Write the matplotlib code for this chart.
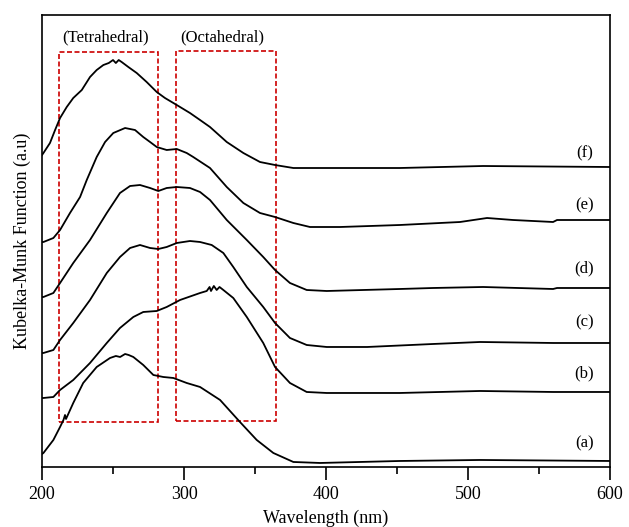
import numpy as np
import matplotlib.pyplot as plt
from matplotlib.patches import Rectangle

# UV-Vis DRS (Kubelka-Munk), curves, arbitrary units
wl_a = [200, 201, 208, 212.7, 215.1, 216.2, 216.9, 222, 229, 238.5, 247.9, 252, 255, 258.5, 261, 264.3,
        271.3, 278.4, 285.4, 292.5, 301.9, 311.3, 325.4, 339.4, 351.2, 362.9, 377, 395.8, 452, 508.5, 600]
km_a = [13, 14, 27, 40, 47, 52, 48, 64, 84, 100, 109, 111, 110, 113, 112, 110,
        102, 92, 90, 89, 84, 80, 67, 45, 27, 14, 5, 4, 6, 7, 6]

wl_b = [200, 201, 208, 212.7, 222, 233.8, 245.6, 254.9, 264.3, 271.3, 280.8, 287.8, 297.2, 311.3, 316,
        318, 319, 321, 323, 325, 327.7, 334.7, 344.2, 355.8, 364.1, 374.6, 386.4, 400.5, 452, 508.5, 560, 600]
km_b = [69, 69, 70, 77, 87, 104, 124, 139, 150, 155, 156, 160, 167, 174, 176,
        180, 176, 181, 177, 180, 177, 169, 150, 124, 100, 84, 75, 74, 74, 76, 75, 75]

wl_c = [200, 201, 208, 212.7, 222, 233.8, 245.6, 254.9, 262, 269, 276.1, 281.9, 287.8, 294.9, 304.2,
        311.3, 319.5, 327.7, 334.7, 344.2, 355.8, 364.1, 374.6, 386.4, 400.5, 429, 475.4, 508.5, 560, 600]
km_c = [114, 114, 117, 127, 144, 167, 194, 210, 219, 222, 219, 218, 220, 224, 226,
        225, 222, 214, 200, 180, 160, 144, 129, 122, 120, 120, 123, 125, 124, 124]

wl_d = [200, 201, 208, 212.7, 222, 233.8, 245.6, 254.9, 262, 269, 276.1, 281.9, 287.8, 294.9, 304.2,
        311.3, 318.3, 330.1, 344.2, 355.8, 364.1, 374.6, 386.4, 400.5, 452, 475.4, 510.6, 559.9, 562.7, 600]
km_d = [170, 170, 174, 184, 204, 227, 254, 274, 281, 282, 279, 276, 279, 280, 279,
        275, 267, 247, 227, 210, 197, 184, 177, 176, 178, 179, 180, 178, 179, 179]

wl_e = [200, 201, 208, 212.7, 219.7, 226.8, 231.5, 238.5, 244.4, 250.2, 258.5, 265.5, 271.3, 276.1, 280.8,
        287.8, 294.9, 301.9, 306.5, 318.3, 330.1, 341.8, 353.5, 364.1, 377, 388.7, 409.9, 452, 494.4, 513.4,
        531.7, 559.9, 562.7, 600]
km_e = [225, 225, 229, 237, 254, 270, 287, 310, 325, 334, 339, 337, 330, 325, 320,
        317, 318, 314, 310, 299, 280, 264, 254, 250, 244, 240, 240, 242, 245, 249,
        247, 245, 247, 247]

wl_f = [200, 201, 205.6, 209.2, 212.7, 217.4, 222, 228, 233.8, 238.5, 243.2, 247, 250, 252, 254, 256.1,
        260.8, 266.7, 273.7, 280.8, 286.6, 294.9, 304.2, 311.3, 318.3, 330.1, 341.8, 353.5, 364.1, 377,
        409.9, 452, 510.6, 600]
km_f = [312, 314, 324, 337, 349, 360, 369, 377, 390, 397, 402, 404, 407, 404, 407, 405,
        400, 394, 385, 375, 369, 362, 354, 347, 340, 325, 314, 305, 302, 299,
        299, 299, 301, 300]

curves = [(wl_a, km_a), (wl_b, km_b), (wl_c, km_c), (wl_d, km_d), (wl_e, km_e), (wl_f, km_f)]
labels = ['(a)', '(b)', '(c)', '(d)', '(e)', '(f)']
label_y = [24, 94, 145, 199, 262, 314]

plt.rcParams['font.family'] = 'Liberation Serif'

fig = plt.figure(figsize=(6.29, 5.27), dpi=100)
ax = fig.add_axes([0.0668, 0.1139, 0.9030, 0.8576])

for (wl, km) in curves:
    ax.plot(wl, km, color='black', lw=1.3, solid_joinstyle='round')

for lab, y in zip(labels, label_y):
    ax.text(582, y, lab, ha='center', va='center', fontsize=12)

# coordination regions
red = '#cc0000'
ax.add_patch(Rectangle((212, 45), 70, 370, fill=False, ec=red, lw=1.2, ls=(0, (3, 1.5))))
ax.add_patch(Rectangle((294.5, 46), 70, 370, fill=False, ec=red, lw=1.2, ls=(0, (3, 1.5))))
ax.text(245, 430, '(Tetrahedral)', ha='center', va='center', fontsize=12)
ax.text(327, 430, '(Octahedral)', ha='center', va='center', fontsize=12)

ax.set_xlim(200, 600)
ax.set_ylim(0, 452)
ax.set_xticks([200, 300, 400, 500, 600])
ax.set_xticks([250, 350, 450, 550], minor=True)
ax.set_yticks([])
ax.tick_params(axis='x', direction='out', length=9.5, width=1.2, labelsize=13, pad=4)
ax.tick_params(axis='x', which='minor', direction='out', length=5, width=1.2)
for s in ax.spines.values():
    s.set_linewidth(1.2)

ax.set_xlabel('Wavelength (nm)', fontsize=13, labelpad=5)
ax.set_ylabel('Kubelka-Munk Function (a.u)', fontsize=13, labelpad=8)

fig.savefig('out.png', dpi=100)
